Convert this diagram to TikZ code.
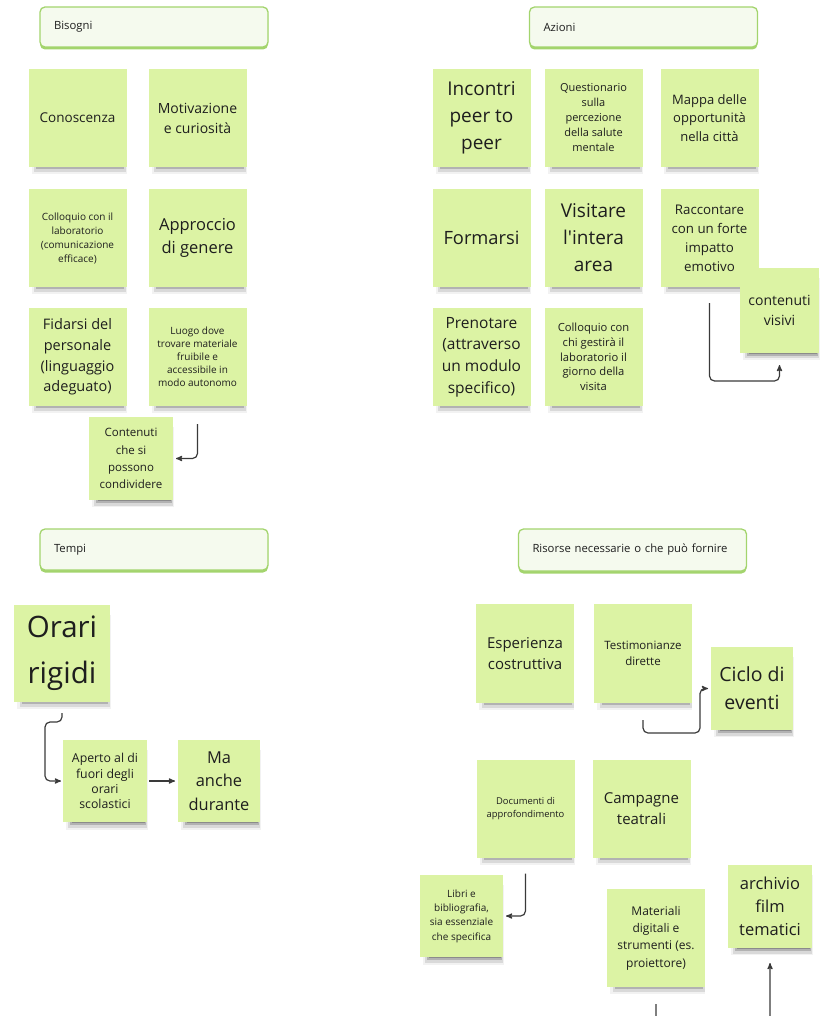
\documentclass[tikz,border=0pt]{standalone}
\usepackage{fontspec}
\setmainfont{Open Sans}
\usepackage{tikz}
\usetikzlibrary{arrows, positioning, shadows}
\definecolor{notefill}{HTML}{DCF3A4}
\definecolor{hdrfill}{HTML}{F5FAEE}
\definecolor{hdrline}{HTML}{A3D46D}
\definecolor{linkcol}{HTML}{3A3A3A}
\definecolor{ink}{HTML}{1E1E1E}
\tikzset{fs/.style args={#1/#2}{font=\fontsize{#1}{#2}\selectfont}}
\tikzset{note/.style={fill=notefill,text=ink,align=center,inner sep=2pt,outer sep=0pt,minimum width=98pt,minimum height=98pt,
  general shadow={fill=black,opacity=.05,shadow scale=.97,shadow yshift=-9pt,shadow xshift=2pt},
  general shadow={fill=black,opacity=.10,shadow scale=.94,shadow yshift=-8.5pt,shadow xshift=3pt},
  general shadow={fill=black,opacity=.18,shadow scale=.90,shadow yshift=-8pt,shadow xshift=3pt},
  general shadow={fill=black,opacity=.22,shadow scale=.86,shadow yshift=-7.5pt,shadow xshift=4pt}}}
\tikzset{small note/.style={note,minimum width=84pt,minimum height=83pt}}
\tikzset{header/.style={draw=hdrline,line width=1.3pt,fill=hdrfill,rounded corners=5pt,text width=200pt,inner xsep=14pt,minimum height=40pt,align=left,text=ink,fs=11.3/13,
  general shadow={fill=hdrline,shadow yshift=-2.5pt}}}
\tikzset{link/.style={->,draw=linkcol,line width=1.2pt,rounded corners=5pt}}

\begin{document}
\begin{tikzpicture}[x=1pt,y=-1pt,>=stealth',shorten >=1pt,node distance=22pt]
  \useasboundingbox (0,0) rectangle (820,1016);
  \clip (0,0) rectangle (820,1016);

  % Bisogni
  \node[header] (H1) at (154,27) {Bisogni};
  \node[note,fs=13.5/20] (B1) at (77.5,118) {Conoscenza};
  \node[note,fs=14/20,right=22pt of B1] (B2) {Motivazione\\e curiosità};
  \node[note,fs=10/14,below=22pt of B1] (B3) {Colloquio con il\\laboratorio\\(comunicazione\\efficace)};
  \node[note,fs=16.5/23,right=22pt of B3] (B4) {Approccio\\di genere};
  \node[note,fs=14.5/20.7,below=21pt of B3] (B5) {Fidarsi del\\personale\\(linguaggio\\adeguato)};
  \node[note,fs=10/13,right=22pt of B5] (B6) {Luogo dove\\trovare materiale\\fruibile e\\accessibile in\\modo autonomo};
  \node[small note,fs=11.5/17.3] (B7) at (131,458.5) {Contenuti\\che si\\possono\\condividere};

  \draw[link,shorten <=18pt,shorten >=3pt] (B6.south) |- (B7.east);

  % Azioni
  \node[header] (H2) at (643.5,27) {Azioni};
  \node[note,fs=19/27] (A1) at (481.5,118) {Incontri\\peer to\\peer};
  \node[note,fs=11/15,right=14pt of A1] (A2) {Questionario\\sulla\\percezione\\della salute\\mentale};
  \node[note,fs=13/18.3,right=18pt of A2] (A3) {Mappa delle\\opportunità\\nella città};
  \node[note,fs=18.3/24,below=22pt of A1] (A4) {Formarsi};
  \node[note,fs=19/27,below=22pt of A2] (A5) {Visitare\\l\textquotesingle intera\\area};
  \node[note,fs=13.3/19,below=22pt of A3] (A6) {Raccontare\\con un forte\\impatto\\emotivo};
  \node[small note,fs=14/20,minimum width=79pt,minimum height=85pt] (A7) at (779.5,310.5) {contenuti\\visivi};
  \node[note,fs=15.5/21.7,below=21pt of A4] (A8) {Prenotare\\(attraverso\\un modulo\\specifico)};
  \node[note,fs=11.2/14.7,below=21pt of A5] (A9) {Colloquio con\\chi gestirà il\\laboratorio il\\giorno della\\visita};

  \draw[link,shorten <=16pt,shorten >=12pt] (A6.south) -- ++(0,94) -| (A7.south);

  % Tempi
  \node[header,minimum height=41pt] (H3) at (154,549.5) {Tempi};
  \node[note,fs=29.5/46,minimum width=96pt,minimum height=97pt] (T1) at (62,653.5) {Orari\\rigidi};
  \node[small note,fs=12.3/15.2,minimum height=82pt] (T2) at (105,781) {Aperto al di\\fuori degli\\orari\\scolastici};
  \node[small note,fs=16.4/23.3,minimum width=82pt,minimum height=82pt,right=31pt of T2] (T3) {Ma\\anche\\durante};

  \draw[link,shorten <=11pt,shorten >=2pt] (T1.south) -- ++(0,20) -- ++(-17,0) |- (T2.west);
  \draw[link,shorten <=2pt,shorten >=3pt] (T2) -- (T3);

  % Risorse
  \node[header,minimum height=42pt] (H4) at (632.5,550) {Risorse necessarie o che può fornire};
  \node[note,fs=15/21.7,minimum height=99pt] (R1) at (525,653.5) {Esperienza\\costruttiva};
  \node[note,fs=11.5/16,minimum height=99pt,right=20pt of R1] (R2) {Testimonianze\\dirette};
  \node[small note,fs=19.5/27.7,minimum width=82pt] (R3) at (752,688.5) {Ciclo di\\eventi};
  \node[note,fs=9.4/13.3] (R4) at (525.5,808.5) {Documenti di\\approfondimento};
  \node[note,fs=15/21,right=18pt of R4] (R5) {Campagne\\teatrali};
  \node[small note,fs=10/14.3,minimum width=83pt,minimum height=82pt] (R6) at (461.5,916) {Libri e\\bibliografia,\\sia essenziale\\che specifica};
  \node[note,fs=12/17.3] (R7) at (656,938) {Materiali\\digitali e\\strumenti (es.\\proiettore)};
  \node[small note,fs=16.5/23.3] (R8) at (770,906.5) {archivio\\film\\tematici};

  \draw[link,shorten <=17pt,shorten >=3pt] (R2.south) -- ++(0,30) -- ++(57,0) |- (R3.west);
  \draw[link,shorten <=16pt,shorten >=3pt] (R4.south) |- (R6.east);
  \draw[link,shorten <=17pt,shorten >=15pt] (R7.south) -- ++(0,60) -| (R8.south);
\end{tikzpicture}
\end{document}
